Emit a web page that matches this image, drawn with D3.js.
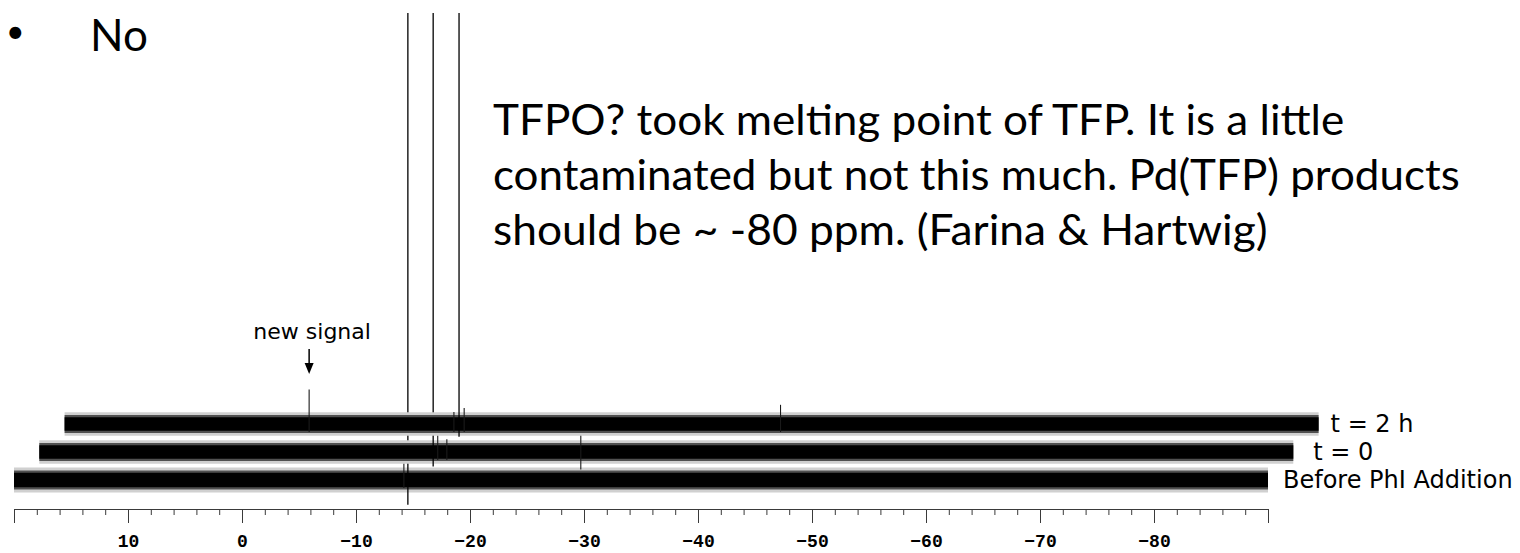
<!DOCTYPE html>
<html>
<head>
<meta charset="utf-8">
<script src="https://cdnjs.cloudflare.com/ajax/libs/d3/7.8.5/d3.min.js"></script>
<style>
body { margin: 0; background: #fff; }
svg { display: block; }
</style>
</head>
<body>
<svg id="canvas"></svg>
<script>
//--spectra, bottom to top (31P, ppm)
let traceNames = ['Before PhI Addition', 't = 0', 't = 2 h'];
let noiseLevels = [1.0, 0.95, 0.95];
// [ppm, height, dip below baseline] in noise units
let peaksBefore = [[-14.55, 80, 2.1], [-14.2, 2.1, 0]];
let peaksT0 = [[-14.55, 80, 0.8], [-14.95, 2.1, 0], [-15.75, 1.6, 0], [-27.5, 2.2, 1.2]];
let peaksT2h = [[-14.6, 80, 0.6], [-1.45, 4.3, 0], [-14.15, 1.5, 0], [-15.05, 2.0, 0], [-42.8, 2.4, 0]];
let peakSets = [peaksBefore, peaksT0, peaksT2h];
//--

//--axis ticks
let majorTicks = [20, 10, 0, -10, -20, -30, -40, -50, -60, -70, -80, -90];
let tickLabels = ['', '10', '0', '\u221210', '\u221220', '\u221230', '\u221240', '\u221250', '\u221260', '\u221270', '\u221280', ''];
let minorTicks = d3.range(20, -91, -2);
//--

//--annotation text
let slideTitle = 'No';
let noteLines = [
    'TFPO? took melting point of TFP. It is a little',
    'contaminated but not this much. Pd(TFP) products',
    'should be ~ -80 ppm. (Farina & Hartwig)'
];
let newSignal = {text: 'new signal', trace: 2, ppm: -1.45};
//--

//--canvas
let width = 1520;
let height = 553;

let canvas = d3.select('#canvas')
canvas.attr('width', width)
canvas.attr('height', height)

let axisY = 509;
let baseY = 480;     // centre line of the bottom trace
let stepX = 25.3;    // stacked plot offset
let stepY = 28;
let clipTop = 13;
let labelGaps = [15, 20, 12];
// the slide font is narrower than Lato: stretch each line so a known part of it ends in place
let noteFit = [['TFPO? took melting point of', 550], ['contaminated but not this m', 544], ['should be ~ -80 ppm. (Farina', 553]];
//--

let x = d3.scaleLinear().domain([20, -90]).range([14, 1268]);
let y = d3.scaleLinear().domain([0, 1]).range([0, -8]);

let drawSpectra = () => {

    canvas.append('defs')
          .append('clipPath')
          .attr('id', 'plotClip')
          .append('rect')
          .attr('x', 0)
          .attr('y', clipTop)
          .attr('width', width)
          .attr('height', height - clipTop)

    let plot = canvas.append('g').attr('clip-path', 'url(#plotClip)')

    let traces = traceNames.map((name, i) => {
        return {name: name, noise: noiseLevels[i], peaks: peakSets[i], dx: i * stepX, cy: baseY - i * stepY, gap: labelGaps[i]}
    })

    let band = d3.area()
                 .x(d => x(d[0]))
                 .y0(d => y(-d[1]))
                 .y1(d => y(d[1]))

    let layers = [
        {k: 1.55, fill: '#d0d0d0'},
        {k: 1.2, fill: '#505050'},
        {k: 0.9, fill: '#000'}
    ]

    let block = plot.selectAll('g.trace')
                    .data(traces)
                    .enter()
                    .append('g')
                    .attr('class', 'trace')
                    .attr('transform', d => 'translate(' + d.dx + ',' + d.cy + ')')

    layers.forEach(layer => {
        block.append('path')
             .attr('d', d => band([[20, d.noise * layer.k], [-90, d.noise * layer.k]]))
             .attr('fill', layer.fill)
    })

    block.selectAll('line.peak')
         .data(d => d.peaks)
         .enter()
         .append('line')
         .attr('class', 'peak')
         .attr('x1', d => x(d[0]))
         .attr('x2', d => x(d[0]))
         .attr('y1', d => y(-d[2] - 1))
         .attr('y2', d => y(d[1]))
         .attr('stroke', d => d[1] > 10 ? '#000' : '#1a1a1a')
         .attr('stroke-width', d => d[1] > 10 ? 1.3 : 1.1)

    // labels to the right of each trace
    canvas.selectAll('text.trace-label')
          .data(traces)
          .enter()
          .append('text')
          .attr('class', 'trace-label')
          .attr('x', d => x(-90) + d.dx + d.gap)
          .attr('y', d => d.cy + 8)
          .attr('font-family', '"DejaVu Sans", sans-serif')
          .attr('font-size', 24)
          .attr('fill', '#000')
          .text(d => d.name)

    //--ppm axis
    let axisG = canvas.append('g')
                      .attr('transform', 'translate(0,' + axisY + ')')

    axisG.call(d3.axisBottom(x)
                 .tickValues(minorTicks)
                 .tickSize(6)
                 .tickSizeOuter(0)
                 .tickFormat(''))

    let major = axisG.append('g')
    major.call(d3.axisBottom(x)
                 .tickValues(majorTicks)
                 .tickSize(14)
                 .tickSizeOuter(0)
                 .tickFormat((d, i) => tickLabels[i]))
    major.select('.domain').remove()

    axisG.selectAll('path, line').attr('stroke', '#3a3a3a')
    major.selectAll('text')
         .attr('y', 38)
         .attr('dy', null)
         .attr('fill', '#000')
         .attr('font-family', '"Liberation Mono", monospace')
         .attr('font-weight', 'bold')
         .attr('font-size', 18)

    axisG.append('text')
         .attr('x', x(-88.2))
         .attr('y', 38)
         .attr('text-anchor', 'middle')
         .attr('font-family', '"Liberation Mono", monospace')
         .attr('font-weight', 'bold')
         .attr('font-size', 18)
         .text('ppm')
    //--

    //--new signal arrow
    let ax = x(newSignal.ppm) + newSignal.trace * stepX
    canvas.append('line')
          .attr('x1', ax).attr('x2', ax)
          .attr('y1', 349).attr('y2', 364)
          .attr('stroke', '#000')
          .attr('stroke-width', 1.5)
    canvas.append('path')
          .attr('d', 'M' + (ax - 4.5) + ',363 L' + (ax + 4.5) + ',363 L' + ax + ',374 Z')
          .attr('fill', '#000')
    canvas.append('text')
          .attr('x', ax + 3)
          .attr('y', 339)
          .attr('text-anchor', 'middle')
          .attr('font-family', '"DejaVu Sans", sans-serif')
          .attr('font-size', 22)
          .text(newSignal.text)
    //--

    //--slide text
    canvas.append('text')
          .attr('x', 6)
          .attr('y', 43)
          .attr('font-family', 'Lato, sans-serif')
          .attr('font-size', 32)
          .text('\u2022')
    canvas.append('text')
          .attr('x', 90)
          .attr('y', 51)
          .attr('font-family', 'Lato, sans-serif')
          .attr('font-size', 44)
          .text(slideTitle)

    let noteSize = 43
    let probe = canvas.append('text')
                      .attr('font-family', 'Lato, sans-serif')
                      .attr('font-size', noteSize)
    let measure = s => probe.text(s).node().getComputedTextLength()
    let lineLengths = noteLines.map((line, i) => measure(line) * noteFit[i][1] / measure(noteFit[i][0]))
    probe.remove()

    canvas.selectAll('text.note')
          .data(noteLines)
          .enter()
          .append('text')
          .attr('class', 'note')
          .attr('x', 493)
          .attr('y', (d, i) => 135 + i * 55)
          .attr('font-family', 'Lato, sans-serif')
          .attr('font-size', noteSize)
          .attr('textLength', (d, i) => lineLengths[i])
          .attr('lengthAdjust', 'spacingAndGlyphs')
          .attr('fill', '#000')
          .text(d => d)
    //--
}

drawSpectra()
</script>
</body>
</html>
